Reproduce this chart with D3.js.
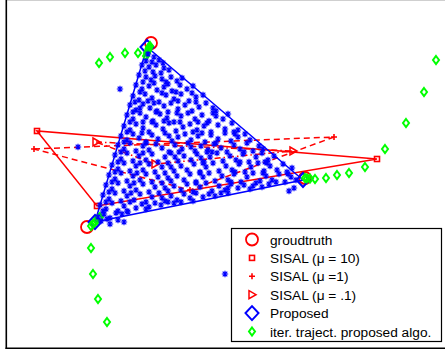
<!DOCTYPE html>
<html><head><meta charset="utf-8">
<script src="https://cdn.jsdelivr.net/npm/d3@7"></script>
<style>html,body{margin:0;padding:0;background:#fff;}svg{display:block;}</style>
</head><body>
<svg id="c" width="445" height="354"></svg>
<script>
// ---- data (abstract projection coordinates) ----
const groundtruth = [[145,305],[81,121],[299,170]];
const proposed = [[141,301],[89,126],[297,168]];
const sisal10 = [[31,217],[91,142],[371,189]];
const sisal1 = [[28,199],[328,211],[184,158]];
const sisal01 = [[90,206],[287,197],[149,184]];
const trajTop = [[93,285],[104,291],[119,295],[132,295],[140,292],[141,295],[142,297],[142.5,299],[143,300.5],[143.5,301.5],[144,302]];
const trajLeft = [[101,26],[92,49],[87,74],[85,100],[85,122],[87,124],[89,126],[91,128],[93,130],[94,131]];
const trajRight = [[430,288],[418,256],[400,225],[379,199],[359,181],[343,175],[331,173],[320,170],[309,169],[304,169.5],[301,169.7],[299,170]];
const pixels = [
[142,294],[148,291],[153,288],[140,287],[146,286],[157,285],
[136,283],[143,281],[150,283],[158,280],[163,278],[139,277],[147,276],[155,275],
[133,273],[140,271],[149,272],[156,269],[165,271],[171,267],[137,266],[145,268],[160,266],[176,270],
[130,263],[136,259],[143,262],[151,258],[158,261],[166,257],[174,263],[181,259],[187,262],[134,256],[148,265],[162,264],[170,256],
[127,252],[133,248],[139,254],[146,250],[153,246],[160,253],[168,249],[175,254],[183,247],[190,251],[197,253],[129,246],[156,255],[172,247],[186,255],[142,247],
[124,243],[130,238],[137,244],[144,240],[151,237],[158,242],[165,245],[172,239],[179,243],[186,237],[193,241],[200,245],[207,240],[127,236],[148,245],[162,236],[190,246],[210,237],[134,240],
[121,233],[127,229],[134,235],[140,231],[147,227],[154,234],[161,230],[168,226],[175,232],[182,235],[189,229],[196,233],[203,227],[210,232],[217,229],[222,234],[124,226],[150,236],[171,235],[192,226],[207,235],[137,226],[158,227],
[118,222],[124,218],[130,224],[137,220],[143,216],[150,223],[157,219],[163,225],[170,217],[177,221],[184,224],[191,218],[198,222],[205,216],[212,223],[219,219],[226,225],[232,218],[121,216],[146,226],[174,226],[201,225],[228,216],[187,216],
[115,212],[121,208],[127,214],[133,210],[140,206],[146,213],[152,209],[159,215],[166,207],[172,211],[179,214],[185,208],[192,212],[199,206],[205,213],[212,209],[219,215],[225,207],[232,211],[239,214],[244,208],[118,206],[136,215],[163,212],[196,215],[229,214],[210,205],
[112,203],[118,199],[124,205],[130,197],[137,202],[143,198],[150,204],[156,200],[163,196],[169,203],[176,199],[182,205],[189,197],[195,202],[202,198],[208,204],[215,200],[221,196],[228,203],[234,199],[241,205],[247,197],[253,202],[115,196],[140,205],[173,196],[206,196],[238,196],[257,199],[185,201],
[109,193],[115,189],[121,195],[127,187],[133,192],[140,188],[146,194],[152,186],[159,191],[165,195],[172,187],[178,192],[185,188],[191,194],[198,186],[204,191],[211,195],[217,187],[224,192],[230,188],[237,194],[243,186],[250,191],[256,195],[262,188],[268,192],[112,186],[137,195],[169,191],[201,196],[234,186],[259,186],[195,190],
[106,183],[112,179],[118,185],[124,177],[130,182],[137,178],[143,184],[149,176],[156,181],[162,185],[168,177],[175,182],[181,178],[188,184],[194,176],[200,181],[207,185],[213,177],[220,182],[226,178],[233,184],[239,176],[245,181],[252,185],[258,177],[264,182],[271,178],[277,184],[281,176],[109,176],[134,185],[165,181],[197,185],[229,176],[261,185],[286,180],
[103,173],[109,169],[115,175],[121,167],[127,172],[134,168],[140,174],[146,166],[152,171],[159,175],[165,167],[171,172],[178,168],[184,174],[190,166],[197,171],[203,175],[209,167],[216,172],[222,168],[228,174],[235,166],[241,171],[247,175],[254,167],[260,172],[266,168],[273,174],[279,166],[285,171],[290,168],[106,166],[131,175],[162,170],[194,175],[225,166],[257,175],[282,174],
[100,163],[106,159],[112,165],[118,157],[124,162],[130,158],[137,164],[143,156],[149,161],[156,165],[162,157],[168,162],[175,158],[181,164],[187,156],[194,161],[200,165],[206,157],[213,162],[219,158],[225,164],[232,160],[238,163],[244,159],[250,165],[256,161],[263,164],[270,166],[103,156],[128,165],[159,160],[190,165],[222,160],[247,162],
[97,153],[103,149],[109,155],[115,147],[121,152],[128,148],[134,154],[140,146],[146,151],[153,155],[159,147],[165,152],[171,148],[178,154],[184,150],[190,155],[197,151],[203,154],[209,152],[215,155],[222,155],[100,146],[125,155],[156,150],[187,147],
[94,143],[100,139],[106,145],[112,137],[118,142],[124,146],[130,140],[136,144],[143,141],[149,145],[155,143],[162,146],[168,145],[175,146],[97,137],[121,137],[140,139],
[92,131],[98,134],[104,130],[110,135],[116,134],[122,136],[95,127],[101,129],[104,124],[112,128],[118,126],
[114,259],[72,201],[219,74],[288,160],[283,157]
];
const legendLabels = ["groudtruth","SISAL (\u03bc = 10)","SISAL (\u03bc =1)","SISAL (\u03bc = .1)","Proposed","iter. traject. proposed algo."];

// ---- drawing ----
const svg = d3.select("#c");
const x = d3.scaleLinear().domain([0,440]).range([6,446]);
const y = d3.scaleLinear().domain([0,348]).range([348,0]);
const RED="#ff0000", BLUE="#0000ff", GREEN="#00ff00";

// frame
svg.append("line").attr("x1",7).attr("x2",445).attr("y1",0.5).attr("y2",0.5).attr("stroke","#cfcfcf").attr("stroke-width",1);
svg.append("line").attr("x1",6.3).attr("x2",6.3).attr("y1",0).attr("y2",349).attr("stroke","#000").attr("stroke-width",1.6);
svg.append("line").attr("x1",5.5).attr("x2",445).attr("y1",348.3).attr("y2",348.3).attr("stroke","#000").attr("stroke-width",1.6);

const g = svg.append("g");
const closed = d3.line().x(d=>x(d[0])).y(d=>y(d[1])).curve(d3.curveLinearClosed);

function sym(sel, type, cx, cy){
  if(type==="circle"){
    sel.append("circle").attr("cx",cx).attr("cy",cy).attr("r",6).attr("fill","none").attr("stroke",RED).attr("stroke-width",1.8);
  } else if(type==="square"){
    sel.append("rect").attr("x",cx-2.5).attr("y",cy-2.5).attr("width",5).attr("height",5).attr("fill","none").attr("stroke",RED).attr("stroke-width",1.6);
  } else if(type==="plus"){
    sel.append("path").attr("d",`M${cx-3},${cy}H${cx+3}M${cx},${cy-3}V${cy+3}`).attr("stroke",RED).attr("stroke-width",1.6);
  } else if(type==="tri"){
    sel.append("path").attr("d",`M${cx-3},${cy-4}L${cx+4},${cy}L${cx-3},${cy+4}Z`).attr("fill","none").attr("stroke",RED).attr("stroke-width",1.5);
  } else if(type==="bigdiamond"){
    sel.append("path").attr("d",`M${cx},${cy-7}L${cx+6.5},${cy}L${cx},${cy+7}L${cx-6.5},${cy}Z`).attr("fill","none").attr("stroke",BLUE).attr("stroke-width",2);
  } else if(type==="gdiamond"){
    sel.append("path").attr("d",`M${cx},${cy-4}L${cx+3},${cy}L${cx},${cy+4}L${cx-3},${cy}Z`).attr("fill","none").attr("stroke",GREEN).attr("stroke-width",2);
  }
}

groundtruth.forEach(d=>sym(g,"circle",x(d[0]),y(d[1])));
g.append("path").attr("d",closed(sisal10)).attr("fill","none").attr("stroke",RED).attr("stroke-width",1.5);
sisal10.forEach(d=>sym(g,"square",x(d[0]),y(d[1])));
g.append("path").attr("d",closed(sisal1)).attr("fill","none").attr("stroke",RED).attr("stroke-width",1.5).attr("stroke-dasharray","6,4");
sisal1.forEach(d=>sym(g,"plus",x(d[0]),y(d[1])));
g.append("path").attr("d",closed(sisal01)).attr("fill","none").attr("stroke",RED).attr("stroke-width",1.5).attr("stroke-dasharray","6,3,1.5,3");
sisal01.forEach(d=>sym(g,"tri",x(d[0]),y(d[1])));
g.append("path").attr("d",closed(proposed)).attr("fill","none").attr("stroke",BLUE).attr("stroke-width",1.5);
proposed.forEach(d=>sym(g,"bigdiamond",x(d[0]),y(d[1])));
[trajTop,trajLeft,trajRight].forEach(t=>t.forEach(d=>sym(g,"gdiamond",x(d[0]),y(d[1]))));
const ast = g.append("g").attr("stroke",BLUE).attr("stroke-width",1.2);
pixels.forEach(d=>{
  const cx=x(d[0]), cy=y(d[1]), r=3.2, q=2.3;
  ast.append("path").attr("d",`M${cx-r},${cy}H${cx+r}M${cx},${cy-r}V${cy+r}M${cx-q},${cy-q}L${cx+q},${cy+q}M${cx-q},${cy+q}L${cx+q},${cy-q}`);
});

// legend
const L = svg.append("g");
L.append("rect").attr("x",231.5).attr("y",228.5).attr("width",210).attr("height",113).attr("fill","#fff").attr("stroke","#000").attr("stroke-width",1.2);
const types=["circle","square","plus","tri","bigdiamond","gdiamond"];
const rowY = d3.scaleLinear().domain([0,5]).range([239.5,331.5]);
legendLabels.forEach((t,i)=>{
  sym(L,types[i],252,rowY(i));
  L.append("text").attr("x",270).attr("y",rowY(i)+5).attr("font-family","'Liberation Sans',Arial,sans-serif").attr("font-size","13.7px").attr("fill","#000").text(t);
});
</script>
</body></html>
